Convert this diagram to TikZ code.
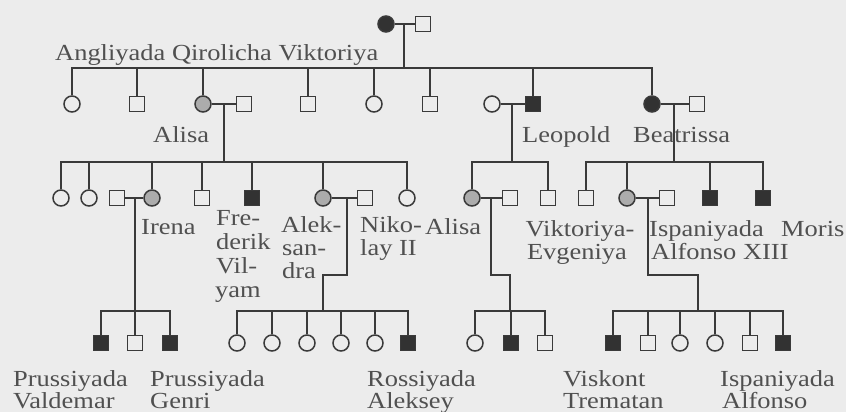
\documentclass[tikz,border=0pt]{standalone}
\usepackage{fontspec}
\setmainfont{Liberation Serif}[FakeStretch=1.15]
\definecolor{bg}{RGB}{236,236,236}
\definecolor{lc}{RGB}{58,58,58}
\definecolor{dk}{RGB}{50,50,50}
\definecolor{gr}{RGB}{172,172,172}
\definecolor{tc}{RGB}{80,80,80}
\begin{document}
\begin{tikzpicture}[x=1pt,y=-1pt,
  lw/.style={line width=1.5pt, draw=lc},
  ind/.style={lw, fill=bg, inner sep=0pt},
  fm/.style={ind, circle, minimum size=16pt},
  ml/.style={ind, rectangle, minimum size=15pt},
  aff/.style={fill=dk},
  car/.style={fill=gr},
  lbl/.style={inner sep=0pt, text=tc, font=\fontsize{23}{23}\selectfont, anchor=base west},
  lblc/.style={lbl, anchor=base}]
\fill[bg] (0,0) rectangle (846,412);
\useasboundingbox (0,0) rectangle (846,412);
% ---- Generation I
\node[fm,aff] (vic) at (386,24) {};
\node[ml] (alb) at (423,24) {};
\coordinate (m0) at (404,24);
\coordinate (b0) at (0,68);
% ---- Generation II
\node[fm] (c1) at (72,104) {};
\node[ml] (c2) at (137,104) {};
\node[fm,car] (alisa) at (203,104) {};
\node[ml] (ludw) at (244,104) {};
\node[ml] (c4) at (308,104) {};
\node[fm] (c5) at (374,104) {};
\node[ml] (c6) at (430,104) {};
\node[fm] (leopw) at (492,104) {};
\node[ml,aff] (leop) at (533,104) {};
\node[fm,aff] (beat) at (652,104) {};
\node[ml] (henr) at (697,104) {};
\coordinate (m1) at (224,104);
\coordinate (m2) at (512,104);
\coordinate (m3) at (674,104);
\coordinate (b1) at (0,162);
% ---- Generation III
\node[fm] (d1) at (61,198) {};
\node[fm] (d2) at (89,198) {};
\node[ml] (heinr) at (117,198) {};
\node[fm,car] (irena) at (152,198) {};
\node[ml] (d4) at (202,198) {};
\node[ml,aff] (fred) at (252,198) {};
\node[fm,car] (alex) at (323,198) {};
\node[ml] (nik) at (365,198) {};
\node[fm] (d8) at (407,198) {};
\node[fm,car] (alis2) at (472,198) {};
\node[ml] (alsp) at (510,198) {};
\node[ml] (d10) at (548,198) {};
\node[ml] (d11) at (586,198) {};
\node[fm,car] (vena) at (627,198) {};
\node[ml] (alf13) at (667,198) {};
\node[ml,aff] (d13) at (710,198) {};
\node[ml,aff] (moris) at (763,198) {};
\coordinate (m4) at (135,198);
\coordinate (m5) at (347,198);
\coordinate (m6) at (491,198);
\coordinate (m7) at (648,198);
\coordinate (j5) at (323,275);
\coordinate (j6) at (510,275);
\coordinate (j7) at (698,275);
\coordinate (b2) at (0,311);
% ---- Generation IV
\node[ml,aff] (e1) at (101,343) {};
\node[ml] (e2) at (135,343) {};
\node[ml,aff] (e3) at (170,343) {};
\node[fm] (f1) at (237,343) {};
\node[fm] (f2) at (272,343) {};
\node[fm] (f3) at (307,343) {};
\node[fm] (f4) at (341,343) {};
\node[fm] (f5) at (375,343) {};
\node[ml,aff] (alexei) at (408,343) {};
\node[fm] (g1) at (475,343) {};
\node[ml,aff] (g2) at (511,343) {};
\node[ml] (g3) at (545,343) {};
\node[ml,aff] (h1) at (613,343) {};
\node[ml] (h2) at (648,343) {};
\node[fm] (h3) at (680,343) {};
\node[fm] (h4) at (715,343) {};
\node[ml] (h5) at (750,343) {};
\node[ml,aff] (h6) at (783,343) {};
% ---- marriages
\draw[lw] (vic) -- (alb);
\draw[lw] (alisa) -- (ludw);
\draw[lw] (leopw) -- (leop);
\draw[lw] (beat) -- (henr);
\draw[lw] (heinr) -- (irena);
\draw[lw] (alex) -- (nik);
\draw[lw] (alis2) -- (alsp);
\draw[lw] (vena) -- (alf13);
% ---- sibships
\draw[lw] (m0) -- (m0 |- b0);
\draw[lw] (c1.north) |- (beat.north |- b0) -- (beat.north);
\foreach \n in {c2,alisa,c4,c5,c6,leop} \draw[lw] (\n.north) -- (\n.north |- b0);
\draw[lw] (m1) -- (m1 |- b1);
\draw[lw] (d1.north) |- (d8.north |- b1) -- (d8.north);
\foreach \n in {d2,irena,d4,fred,alex} \draw[lw] (\n.north) -- (\n.north |- b1);
\draw[lw] (m2) -- (m2 |- b1);
\draw[lw] (alis2.north) |- (d10.north |- b1) -- (d10.north);
\draw[lw] (m3) -- (m3 |- b1);
\draw[lw] (d11.north) |- (moris.north |- b1) -- (moris.north);
\foreach \n in {vena,d13} \draw[lw] (\n.north) -- (\n.north |- b1);
\draw[lw] (m4) -- (m4 |- b2);
\draw[lw] (e1.north) |- (e3.north |- b2) -- (e3.north);
\draw[lw] (e2.north) -- (e2.north |- b2);
\draw[lw] (m5) |- (j5) -- (j5 |- b2);
\draw[lw] (f1.north) |- (alexei.north |- b2) -- (alexei.north);
\foreach \n in {f2,f3,f4,f5} \draw[lw] (\n.north) -- (\n.north |- b2);
\draw[lw] (m6) |- (j6) -- (j6 |- b2);
\draw[lw] (g1.north) |- (g3.north |- b2) -- (g3.north);
\draw[lw] (g2.north) -- (g2.north |- b2);
\draw[lw] (m7) |- (j7) -- (j7 |- b2);
\draw[lw] (h1.north) |- (h6.north |- b2) -- (h6.north);
\foreach \n in {h2,h3,h4,h5} \draw[lw] (\n.north) -- (\n.north |- b2);
% ---- labels
\node[lbl] (tvic) at (55,61) {Angliyada Qirolicha Viktoriya};
\node[lbl] (tal1) at (153,142) {Alisa};
\node[lbl] (tleo) at (522,142) {Leopold};
\node[lbl] (tbea) at (633,142) {Beatrissa};
\node[lbl] (tire) at (141,234) {Irena};
\node[lbl] (tfre1) at (216,225) {Fre-};
\node[lbl] (tfre2) at (216,249) {derik};
\node[lbl] (tfre3) at (216,273) {Vil-};
\node[lbl] (tfre4) at (215,297) {yam};
\node[lbl] (tale1) at (281,232) {Alek-};
\node[lbl] (tale2) at (282,255) {san-};
\node[lbl] (tale3) at (282,278) {dra};
\node[lbl] (tnik1) at (360,232) {Niko-};
\node[lbl] (tnik2) at (360,255) {lay II};
\node[lbl] (tal2) at (425,234) {Alisa};
\node[lblc] (tvik1) at (580,236) {Viktoriya-};
\node[lblc] (tvik2) at (577,259) {Evgeniya};
\node[lbl] (tisp1) at (649,236) {Ispaniyada};
\node[lbl] (tisp2) at (651,259) {Alfonso XIII};
\node[lbl] (tmor) at (781,236) {Moris};
\node[lbl] (tval1) at (13,386) {Prussiyada};
\node[lbl] (tval2) at (13,408) {Valdemar};
\node[lbl] (tgen1) at (150,386) {Prussiyada};
\node[lbl] (tgen2) at (150,408) {Genri};
\node[lbl] (tros1) at (367,386) {Rossiyada};
\node[lbl] (tros2) at (367,408) {Aleksey};
\node[lbl] (tvis1) at (563,386) {Viskont};
\node[lbl] (tvis2) at (563,408) {Trematan};
\node[lbl] (tisa1) at (720,386) {Ispaniyada};
\node[lbl] (tisa2) at (722,408) {Alfonso};
\end{tikzpicture}
\end{document}
